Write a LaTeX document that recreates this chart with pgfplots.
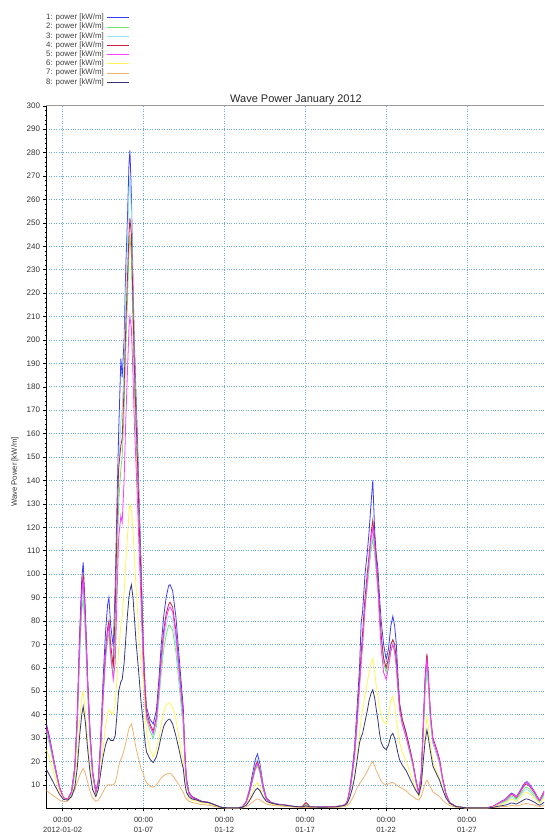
\documentclass[border=0pt]{standalone}
\usepackage{pgfplots}
\usepackage{pgfplotstable}
\pgfplotsset{compat=1.18}
\usepackage{fontspec}
\setmainfont{Liberation Sans}

\definecolor{sA}{RGB}{60,60,250}
\definecolor{sB}{RGB}{110,230,110}
\definecolor{sC}{RGB}{150,228,240}
\definecolor{sD}{RGB}{200,30,70}
\definecolor{sE}{RGB}{255,60,255}
\definecolor{sF}{RGB}{255,245,90}
\definecolor{sG}{RGB}{240,178,115}
\definecolor{sH}{RGB}{55,55,120}
\definecolor{gridc}{RGB}{110,170,220}

\pgfplotstableread{
t a b c d e f g h
0 36 32 33 35 34 25 7.5 16.5
0.2 30 27 28 29 29 21 6.5 14
0.5 19 17 18 18.5 18.5 14 5 10
0.8 9 8.5 8.5 9 9 7 3.5 6
1.05 4.5 4.3 4.4 4.5 4.5 4 2.8 3.8
1.3 3.8 3.6 3.7 3.8 3.8 3.5 3 3.5
1.55 7 6 6.5 7 7 5 5 5
1.75 18 15 16 17 17 10 8 9
1.9 40 34 36 38 37 22 11 17
2.05 75 64 67 71 70 38 14 31
2.18 98 84 88 93 91 47 16 40
2.27 105 90 95 100 98 50 17 43.5
2.4 85 74 77 82 80 42 15 37
2.55 55 48 50 53 52 28 11 25
2.7 32 28 29 31 30 17 7 15
2.85 16 14 15 15.5 15 9 4.5 8
3.05 7 6.5 6.5 7 7 5 3 5
3.2 12 10 11 11 11 8 3.5 8
3.35 30 25 26 27 26 16 5 15
3.5 55 46 48 49 48 26 7 22
3.65 75 63 66 67 65 35 9 27
3.78 87 72 76 77 75 40 10 29.5
3.86 90 75 78 80 78 42 10 30
3.97 78 64 68 70 66 41 10 29
4.13 69 56 62 60 55 40 10 29
4.25 95 70 85 85 62 45 11 31
4.36 130 100 115 120 90 55 14 40
4.46 160 130 145 145 115 68 18 50
4.6 192 145 165 155 125 78 21 54
4.68 184 150 170 158 122 82 22 55
4.8 200 170 190 180 140 92 25 62
4.9 230 195 220 205 165 105 28 72
5.0 250 215 240 225 185 115 31 82
5.1 275 238 262 245 205 126 34 90
5.16 281 245 270 252 210 130 35 93
5.25 262 235 255 245 205 128 36 95.5
5.35 225 205 220 215 185 118 33 90
5.43 200 180 195 190 165 108 30 82
5.53 178 160 172 168 148 95 26 72
5.63 157 140 150 148 130 84 23 64
5.74 129 115 122 120 108 72 20 55
5.84 107 95 100 100 90 62 17 46
5.98 72 64 68 68 62 55 15 36.5
6.1 52 46 49 50 46 40 12 28
6.19 43 38 40 41 39 32 11 24
6.4 38 33 35 36 35 25 9.5 21
6.6 36 30 31 33 32 22 9 19.5
6.8 42 35 37 39 38 25 10 22
6.95 55 46 48 51 50 30 11.5 26
7.1 70 58 61 65 63 36 13 31
7.25 82 68 72 76 74 41 14 35
7.4 90 74 78 83 81 44 14.5 37
7.55 95 78 82 87 85 45 15 38
7.64 95.5 78 82 88 86 45 15 38
7.8 93 76 80 86 84 43 14 36
8.0 82 67 70 76 74 38 12 31
8.2 65 53 56 60 59 30 10 25
8.35 52 42 45 48 47 24 8 20
8.46 43 35 37 40 39 20 7 17
8.55 25 21 22 24 23 12 5 11
8.65 13 11 12 12.5 12 7 4 7
8.8 7 6 6.5 6.8 6.5 4.5 3 5
9.0 5 4.5 4.5 4.8 4.6 3.5 2.5 4
9.3 4 3.5 3.6 3.8 3.6 3 2 3.5
9.6 3 2.7 2.8 2.9 2.8 2.3 1.6 2.8
10.0 2.6 2.3 2.4 2.5 2.4 2 1.3 2.5
10.4 1.5 1.3 1.4 1.4 1.4 1.1 0.8 1.5
10.8 0.4 0.4 0.4 0.4 0.4 0.3 0.3 0.4
11.3 0.2 0.2 0.2 0.2 0.2 0.2 0.1 0.2
11.8 0.2 0.2 0.2 0.2 0.2 0.2 0.1 0.2
12.1 0.5 0.4 0.5 0.5 0.5 0.3 0.2 0.4
12.35 3 2.5 2.8 2.7 2.6 1.6 0.7 1.3
12.55 8 6.5 7.2 7 6.7 4 1.5 3.2
12.75 15 12 13.5 13 12.5 7.2 2.7 5.7
12.92 21 16.5 19 18 17.3 10 3.6 7.8
13.05 23.2 18 21 20 19 11 4 8.6
13.2 19 15 17.5 16.5 16 9.2 3.6 7.5
13.4 10 8 9.2 8.8 8.5 5.2 2.6 4.8
13.6 4.5 3.8 4.2 4 4 2.8 1.8 3
13.9 2.5 2.2 2.3 2.3 2.3 1.8 1.3 2.2
14.3 1.8 1.6 1.7 1.7 1.7 1.4 1 1.6
14.8 1.4 1.2 1.3 1.3 1.3 1.1 0.8 1.3
15.3 0.8 0.8 0.8 0.8 0.8 0.7 0.5 0.8
15.8 0.5 0.6 0.5 0.7 0.5 0.5 0.3 0.6
16.05 0.6 1.8 0.8 2.5 1 0.7 0.4 1
16.3 0.6 0.6 0.6 0.7 0.6 0.5 0.3 0.6
16.8 0.5 0.5 0.5 0.5 0.5 0.4 0.3 0.5
17.3 0.6 0.5 0.5 0.6 0.6 0.4 0.3 0.5
17.8 0.7 0.6 0.6 0.7 0.7 0.5 0.3 0.6
18.2 1 0.9 0.9 1 1 0.8 0.5 0.9
18.45 1.5 1.4 1.4 1.5 1.5 1.2 0.8 1.3
18.6 3 2.6 2.7 2.8 2.7 2 1.2 2.2
18.75 8 6.8 7 7.2 7 4.5 2.2 4.5
18.9 16 14 14.5 14.5 14 8 4 8
19.05 26 23 23 23 22 13 6 13
19.2 42 37 37 37 35 21 8.5 20
19.36 60 53 53 55 52 32 10.5 28
19.46 79 62 64 66 62 38 11.5 30.5
19.55 84 70 72 75 70 42 12.5 32
19.7 100 85 87 90 86 48 14 37
19.85 110 95 97 101 98 54 16 42
19.95 118 102 104 108 106 58 17.5 46
20.07 130 110 112 117 115 62 19 49
20.18 140 115 118 123 120 64 20 50.6
20.3 118 108 110 115 112 58 18 47
20.4 108 100 102 106 103 52 16 42
20.49 103 94 96 98 95 48 15 38
20.6 90 82 84 85 80 43 13 32
20.7 80 72 74 74 68 40 11.5 28
20.85 70 62 64 64 58 37 10.5 26
21.01 63.5 58 60 60 55 36 10 25
21.15 68 62 64 64 60 40 10.5 27
21.3 78 68 70 70 67 46 11 31
21.42 82 70 72 72 70 48 11 32
21.53 78 67 69 70 67 44 10.5 30
21.63 70.7 61 63 64 61 38 10 27
21.75 55 49 51 52 50 32 9.5 23
21.84 45 42 43 44 42 28 9 20.7
22.0 38 36 37 38 36 24 8.5 18.5
22.25 32 30 31 32 30 20 7.5 16
22.45 26 24 25 26 25 16 6 13
22.66 19.4 18 19 19.5 19 12 5 10
22.85 12 11 11.5 12 11.5 8 4 7.5
23.03 6.6 6 6.2 6.5 6.3 5 3.5 5.7
23.18 15 13 14 15 14.5 9 5 10
23.3 35 31 32 35 34 20 8 20
23.42 55 50 51 56 54 32 10.5 29
23.53 65 58 60 66 64 39 12 33.5
23.62 55 52 53 57 55 35 11 30
23.75 38 37 38 40 39 27 9 24
23.9 28 28 28 30 29 20 7 18
24.1 24 24 24 26 25 16 6 15
24.31 19.5 19 19 21 20 13 5 12
24.5 12 12 12 13 12.5 8.5 3.5 8
24.7 6 6 6 6.5 6.2 4.5 2.2 4.5
24.93 2.3 2.3 2.3 2.5 2.4 2 1.2 2.2
25.3 0.8 0.8 0.8 0.9 0.8 0.7 0.5 0.8
25.8 0.3 0.3 0.3 0.3 0.3 0.3 0.2 0.3
26.3 0.2 0.2 0.2 0.2 0.2 0.2 0.1 0.2
26.8 0.2 0.2 0.2 0.2 0.2 0.2 0.1 0.2
27.3 0.3 0.3 0.3 0.3 0.3 0.2 0.1 0.2
27.6 0.8 0.7 0.6 0.8 0.8 0.5 0.3 0.4
27.9 2 1.6 1.4 1.9 1.9 1.2 0.5 0.8
28.13 3 2.4 2.1 2.8 2.9 1.8 0.7 1.1
28.4 4 3.2 2.8 3.7 3.8 2.4 0.8 1.4
28.6 5.5 4.4 3.9 5.1 5.3 3.3 1 1.9
28.75 6.5 5.2 4.6 6 6.2 3.9 1.2 2.3
28.9 6 4.8 4.2 5.5 5.8 3.6 1.1 2.1
29.06 5 4 3.5 4.6 4.8 3 1 1.8
29.25 7 5.6 4.9 6.4 6.7 4.2 1.3 2.5
29.45 9.5 7.6 6.7 8.7 9.1 5.7 1.7 3.3
29.6 11 8.8 7.7 10.1 10.6 6.6 2 3.9
29.72 11.4 9 8 10.5 11 6.8 2 4
29.85 10.5 8.4 7.4 9.7 10.1 6.3 1.9 3.7
30.0 9 7.2 6.3 8.3 8.6 5.4 1.6 3.2
30.2 7 5.6 4.9 6.4 6.7 4.2 1.3 2.5
30.35 5 4 3.5 4.6 4.8 3 1 1.8
30.5 3.5 2.8 2.5 3.2 3.4 2.1 0.7 1.3
30.65 5.5 4.4 3.9 5.1 5.3 3.3 1 1.9
30.78 7.5 6 5.3 6.9 7.2 4.5 1.4 2.6
}\wavedata

\begin{document}
\begin{tikzpicture}
\useasboundingbox (0,0) rectangle (544pt,837pt);
\begin{axis}[
  at={(46.5pt,28.7pt)}, anchor=south west,
  scale only axis, width=497.5pt, height=702.5pt,
  xmin=0, xmax=30.77, ymin=0, ymax=300,
  axis lines*=left,
  axis line style={black, line width=0.7pt},
  xtick={1,6,11,16,21,26},
  xticklabels={{00:00\\2012-01-02},{00:00\\01-07},{00:00\\01-12},{00:00\\01-17},{00:00\\01-22},{00:00\\01-27}},
  xticklabel style={align=center, font=\fontsize{7.6}{10}\selectfont, text=black!80, yshift=-2pt},
  ytick={10,20,...,300},
  yticklabel style={font=\fontsize{8}{9}\selectfont, text=black!80},
  /pgf/number format/assume math mode=true,
  minor x tick num=9, minor y tick num=4,
  tick align=outside,
  major tick length=3pt, minor tick length=1.8pt,
  tick style={black, line width=0.5pt},
  grid=major,
  major grid style={gridc, line width=0.6pt, dash pattern=on 1pt off 1.4pt},
  legend plot pos=right,
  legend cell align=right,
  legend style={at={(0.1739,1.135)}, anchor=north east, draw=none, fill=none,
    font=\fontsize{7.9}{9}\selectfont, text=black!75,
    nodes={inner sep=0pt, text height=6.5pt, text depth=2.7pt},
    row sep=0pt, column sep=3pt},
  legend image code/.code={\draw[#1, line width=0.9pt] (0pt,0pt) -- (22pt,0pt);},
  every axis plot/.append style={line width=0.8pt},
]
\addplot[sA] table[x=t,y=a] {\wavedata};
\addlegendentry{1: power [kW/m]}
\addplot[sB] table[x=t,y=b] {\wavedata};
\addlegendentry{2: power [kW/m]}
\addplot[sC] table[x=t,y=c] {\wavedata};
\addlegendentry{3: power [kW/m]}
\addplot[sD] table[x=t,y=d] {\wavedata};
\addlegendentry{4: power [kW/m]}
\addplot[sE] table[x=t,y=e] {\wavedata};
\addlegendentry{5: power [kW/m]}
\addplot[sF] table[x=t,y=f] {\wavedata};
\addlegendentry{6: power [kW/m]}
\addplot[sG] table[x=t,y=g] {\wavedata};
\addlegendentry{7: power [kW/m]}
\addplot[sH] table[x=t,y=h] {\wavedata};
\addlegendentry{8: power [kW/m]}
\end{axis}
\draw[gray!80, line width=0.8pt] (46.5pt,731.2pt) -- (544pt,731.2pt);
\node[anchor=base, font=\fontsize{11}{13}\selectfont, text=black!85] at (296pt,734.5pt) {Wave Power January 2012};
\node[rotate=90, font=\fontsize{7.7}{9}\selectfont, text=black!80] at (15pt,365pt) {Wave Power [kW/m]};
\end{tikzpicture}
\end{document}
